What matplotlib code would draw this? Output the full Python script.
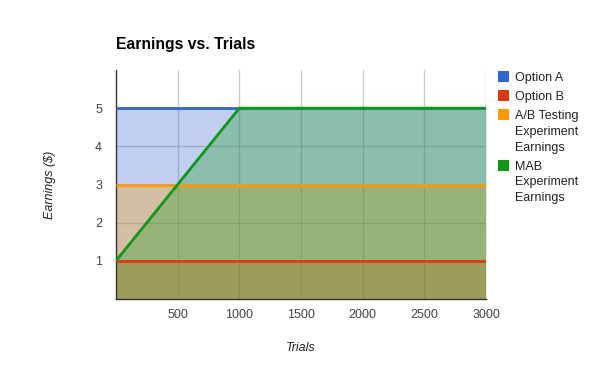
import matplotlib.pyplot as plt
from matplotlib.patches import Rectangle

# data
trials = [0, 500, 1000, 1500, 2000, 2500, 3000]
option_a = [5, 5, 5, 5, 5, 5, 5]
option_b = [1, 1, 1, 1, 1, 1, 1]
ab_testing = [3, 3, 3, 3, 3, 3, 3]
mab = [1, 3, 5, 5, 5, 5, 5]

series_names = ['Option A', 'Option B', 'A/B Testing\nExperiment\nEarnings', 'MAB\nExperiment\nEarnings']
colors = ['#3366cc', '#dc3912', '#ff9900', '#109618']

plt.rcParams['font.family'] = ['Liberation Sans', 'DejaVu Sans']

W, H = 600, 371
fig = plt.figure(figsize=(6, 3.71), dpi=100)
ax = fig.add_axes([116 / W, 72 / H, 370 / W, 229 / H])

for vals, c in zip([option_a, option_b, ab_testing, mab], colors):
    ax.fill_between(trials, 0, vals, color=c, alpha=0.3, linewidth=0, zorder=2)
for vals, c in zip([option_a, option_b, ab_testing, mab], colors):
    ax.plot(trials, vals, color=c, linewidth=2, zorder=3, solid_capstyle='butt')

ax.set_xlim(0, 3000)
ax.set_ylim(0, 6)
ax.set_xticks([500, 1000, 1500, 2000, 2500, 3000])
ax.set_yticks([1, 2, 3, 4, 5])
ax.grid(True, color='#cccccc', linewidth=1, zorder=1)
ax.set_axisbelow(True)
ax.tick_params(length=0, labelsize=9, labelcolor='#444444')
ax.tick_params(axis='y', pad=10)
ax.tick_params(axis='x', pad=7)

for side in ['top', 'right']:
    ax.spines[side].set_visible(False)
for side in ['left', 'bottom']:
    ax.spines[side].set_color('#333333')
    ax.spines[side].set_linewidth(1)

ax.set_xlabel('Trials', fontsize=9, style='italic', color='#222222', labelpad=15)
ax.set_ylabel('Earnings ($)', fontsize=9, style='italic', color='#222222', labelpad=28)
fig.text(116 / W, 1 - 45 / H, 'Earnings vs. Trials', fontsize=11.3, fontweight='bold',
         color='#000000', va='center', ha='left')

# legend, first-line centres in pixels from the top
line_h = 15.5
y = 76
for name, c in zip(series_names, colors):
    fig.patches.append(Rectangle((498 / W, 1 - (y + 5.5) / H), 11 / W, 11 / H,
                                 transform=fig.transFigure, facecolor=c, edgecolor='none'))
    for i, part in enumerate(name.split('\n')):
        fig.text(515 / W, 1 - (y + 1.5 + i * line_h) / H, part, fontsize=9, color='#222222',
                 va='center', ha='left')
    y += (name.count('\n')) * line_h + 19.5

fig.savefig('out.png', dpi=100)
